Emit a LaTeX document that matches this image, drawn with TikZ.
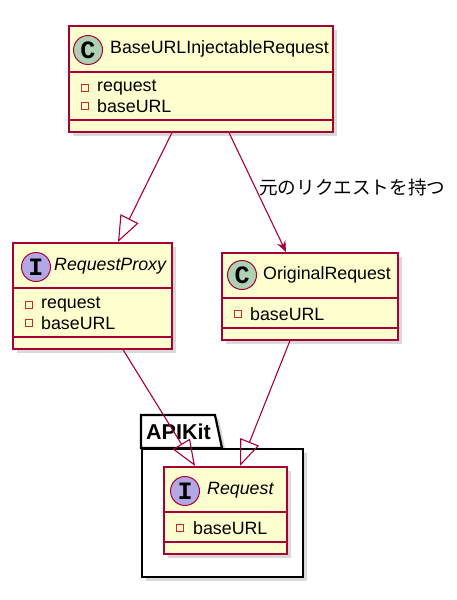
\documentclass[tikz,border=0pt]{standalone}
\usepackage{fontspec}
\setmainfont{Liberation Sans}
\newfontfamily\spotfont{Liberation Mono}
\newfontfamily\jpfont{Noto Sans CJK JP}
\usetikzlibrary{shadows,arrows.meta}

\definecolor{boxfill}{HTML}{FEFECE}
\definecolor{boxline}{HTML}{A80036}
\definecolor{classgreen}{HTML}{ADD1B2}
\definecolor{ifacepurple}{HTML}{B4A7E5}
\definecolor{fieldred}{HTML}{C82930}

\begin{document}
\begin{tikzpicture}[x=1pt,y=-1pt,
  font=\fontsize{17.8}{20}\selectfont,
  classbox/.style={draw=boxline,fill=boxfill,line width=1.6pt,anchor=north west,inner sep=0pt,
    drop shadow={shadow xshift=4pt,shadow yshift=-4pt,opacity=.3}},
  sep/.style={draw=boxline,line width=1.6pt},
  spot/.style={circle,draw=boxline,line width=1pt,minimum size=29pt,inner sep=0pt,
    font=\spotfont\bfseries\fontsize{25}{25}\selectfont},
  fieldmark/.style={rectangle,draw=fieldred,line width=0.9pt,minimum size=7pt,inner sep=0pt},
  txt/.style={anchor=west,inner sep=0pt},
  pkgline/.style={draw=black,line width=2.2pt,fill=white,
    drop shadow={shadow xshift=4pt,shadow yshift=-4pt,opacity=.3}},
  inherit/.style={draw=boxline,line width=1.1pt,-{Triangle[open,length=26pt,width=20pt]}},
  assoc/.style={draw=boxline,line width=1.1pt,-{Stealth[length=11pt,width=9pt]}}
]
\useasboundingbox (0,0) rectangle (456,600);

% package APIKit
\draw[pkgline,line join=miter] (141,448) -- (141,415) -- (215,415) -- (222,448) -- cycle;
\node[pkgline,anchor=north west,minimum width=161pt,minimum height=128pt,inner sep=0pt]
  (apikit) at (141,448) {};
\node[txt,font=\bfseries\fontsize{21.5}{22}\selectfont] (apikitname) at (146,432) {APIKit};

% BaseURLInjectableRequest
\node[classbox,minimum width=264pt,minimum height=106pt] (base) at (68,25) {};
\draw[sep] ([yshift=-47pt]base.north west) -- ([yshift=-47pt]base.north east);
\draw[sep] ([yshift=-95pt]base.north west) -- ([yshift=-95pt]base.north east);
\node[spot,fill=classgreen] (basespot) at (88,50) {C};
\node[txt] (basename) at (110,49) {BaseURLInjectableRequest};
\node[fieldmark] (basem1) at (85,88) {};
\node[txt] (basef1) at (97,88) {request};
\node[fieldmark] (basem2) at (85,106) {};
\node[txt] (basef2) at (97,106) {baseURL};

% RequestProxy
\node[classbox,minimum width=159pt,minimum height=106pt] (proxy) at (12,242) {};
\draw[sep] ([yshift=-46pt]proxy.north west) -- ([yshift=-46pt]proxy.north east);
\draw[sep] ([yshift=-95pt]proxy.north west) -- ([yshift=-95pt]proxy.north east);
\node[spot,fill=ifacepurple] (proxyspot) at (36,267) {I};
\node[txt,font=\itshape\fontsize{17.8}{20}\selectfont] (proxyname) at (54,266) {RequestProxy};
\node[fieldmark] (proxym1) at (29,305) {};
\node[txt] (proxyf1) at (41,305) {request};
\node[fieldmark] (proxym2) at (29,323) {};
\node[txt] (proxyf2) at (41,323) {baseURL};

% OriginalRequest
\node[classbox,minimum width=176pt,minimum height=87pt] (orig) at (221,252) {};
\draw[sep] ([yshift=-46pt]orig.north west) -- ([yshift=-46pt]orig.north east);
\draw[sep] ([yshift=-76pt]orig.north west) -- ([yshift=-76pt]orig.north east);
\node[spot,fill=classgreen] (origspot) at (242,275) {C};
\node[txt] (origname) at (263,275) {OriginalRequest};
\node[fieldmark] (origm1) at (238,314) {};
\node[txt] (origf1) at (250,314) {baseURL};

% Request
\node[classbox,minimum width=123pt,minimum height=87pt] (req) at (163,466) {};
\draw[sep] ([yshift=-46pt]req.north west) -- ([yshift=-46pt]req.north east);
\draw[sep] ([yshift=-76pt]req.north west) -- ([yshift=-76pt]req.north east);
\node[spot,fill=ifacepurple] (reqspot) at (185,491) {I};
\node[txt,font=\itshape\fontsize{17.8}{20}\selectfont] (reqname) at (207,490) {Request};
\node[fieldmark] (reqm1) at (180,528) {};
\node[txt] (reqf1) at (193,528) {baseURL};

% connectors
\draw[inherit] ([xshift=104pt]base.south west) -- ([xshift=106pt]proxy.north west);
\draw[assoc] ([xshift=161pt]base.south west) -- ([xshift=65pt]orig.north west);
\node[txt,font=\jpfont\fontsize{18.6}{20}\selectfont] (hold) at (259,187) {元のリクエストを持つ};
\draw[inherit] ([xshift=111pt]proxy.south west) -- ([xshift=32pt]req.north west);
\draw[inherit] ([xshift=69pt]orig.south west) -- ([xshift=77pt]req.north west);
\end{tikzpicture}
\end{document}
